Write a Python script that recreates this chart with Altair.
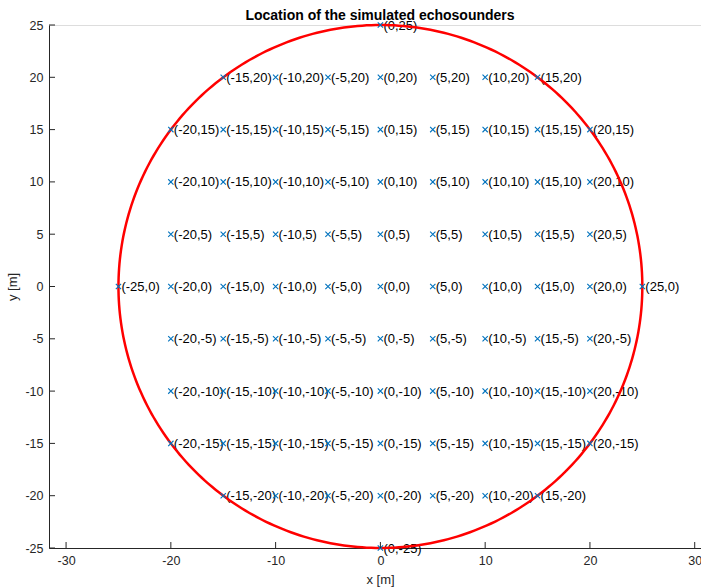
import altair as alt
import numpy as np
import pandas as pd

# Echosounder positions (row by row, y value -> x values)
row_y = [25, 20, 15, 10, 5, 0, -5, -10, -15, -20, -25]
row_x = [
    [0],
    [-15, -10, -5, 0, 5, 10, 15],
    [-20, -15, -10, -5, 0, 5, 10, 15, 20],
    [-20, -15, -10, -5, 0, 5, 10, 15, 20],
    [-20, -15, -10, -5, 0, 5, 10, 15, 20],
    [-25, -20, -15, -10, -5, 0, 5, 10, 15, 20, 25],
    [-20, -15, -10, -5, 0, 5, 10, 15, 20],
    [-20, -15, -10, -5, 0, 5, 10, 15, 20],
    [-20, -15, -10, -5, 0, 5, 10, 15, 20],
    [-15, -10, -5, 0, 5, 10, 15],
    [0],
]
circle_radius = 25
x_ticks = [-30, -20, -10, 0, 10, 20, 30]
y_ticks = [-25, -20, -15, -10, -5, 0, 5, 10, 15, 20, 25]

pts = []
for yv, xs in zip(row_y, row_x):
    for xv in xs:
        pts.append({"x": xv, "y": yv, "label": f"({xv},{yv})"})
pts = pd.DataFrame(pts)

theta = np.linspace(0, 2 * np.pi, 361)
circ = pd.DataFrame({
    "x": circle_radius * np.cos(theta),
    "y": circle_radius * np.sin(theta),
    "i": np.arange(len(theta)),
})

W, H = 652, 523
xs = alt.Scale(domain=[-31.63, 30.6], nice=False, zero=False)
ys = alt.Scale(domain=[-25, 25], nice=False, zero=False)

FONT = "Liberation Sans"
AX = "#262626"

x_axis = alt.Axis(values=x_ticks, tickSize=0, grid=False, labelPadding=6,
                  labelExpr="datum.value + ''",
                  labelFontSize=12.5, labelFont=FONT, labelColor=AX,
                  domainColor=AX, title="x [m]", titleFont=FONT,
                  titleFontSize=13, titleFontWeight="normal", titleColor=AX,
                  titleX=331, titleY=38, titleBaseline="bottom")
y_axis = alt.Axis(values=y_ticks, tickSize=0, grid=False, labelPadding=6,
                  labelExpr="datum.value + ''",
                  labelFontSize=12.5, labelFont=FONT, labelColor=AX,
                  domainColor=AX, title="y [m]", titleFont=FONT,
                  titleFontSize=13, titleFontWeight="normal", titleColor=AX,
                  titleX=-30, titleY=261.5, titleAngle=-90,
                  titleBaseline="bottom", titleAlign="center")

base_pts = alt.Chart(pts)

text = base_pts.mark_text(align="left", baseline="middle", dx=3, dy=0.5,
                          font=FONT, fontSize=13, color="#000000").encode(
    x=alt.X("x:Q", scale=xs, axis=x_axis),
    y=alt.Y("y:Q", scale=ys, axis=y_axis),
    text="label:N",
)

circle = alt.Chart(circ).mark_line(color="#FF0000", strokeWidth=2.5).encode(
    x=alt.X("x:Q", scale=xs),
    y=alt.Y("y:Q", scale=ys),
    order="i:Q",
)

markers = base_pts.mark_point(
    shape="M-1,-1L1,1M-1,1L1,-1", filled=False, size=28, strokeWidth=1.1,
    color="#0072BD", opacity=1,
).encode(
    x=alt.X("x:Q", scale=xs),
    y=alt.Y("y:Q", scale=ys),
)

xt = alt.Chart(pd.DataFrame({"t": x_ticks})).mark_rule(color=AX, strokeWidth=1).encode(
    x=alt.X("t:Q", scale=xs),
    y=alt.value(H),
    y2=alt.value(H - 6),
)
yt = alt.Chart(pd.DataFrame({"t": y_ticks})).mark_rule(color=AX, strokeWidth=1).encode(
    y=alt.Y("t:Q", scale=ys),
    x=alt.value(0),
    x2=alt.value(6),
)

chart = alt.layer(text, circle, markers, xt, yt).properties(
    width=W,
    height=H,
    title=alt.TitleParams(
        "Location of the simulated echosounders",
        font=FONT, fontSize=14, fontWeight="bold", color="#000000",
        anchor="middle", frame="group", dx=5, dy=22, offset=4, baseline="bottom",
    ),
    autosize=alt.AutoSizeParams(type="none"),
    padding={"left": 49, "top": 25, "right": 0, "bottom": 39},
).configure_view(strokeWidth=0).configure(background="white")

chart.save("out.html", embed_options={"renderer": "svg", "actions": False})
